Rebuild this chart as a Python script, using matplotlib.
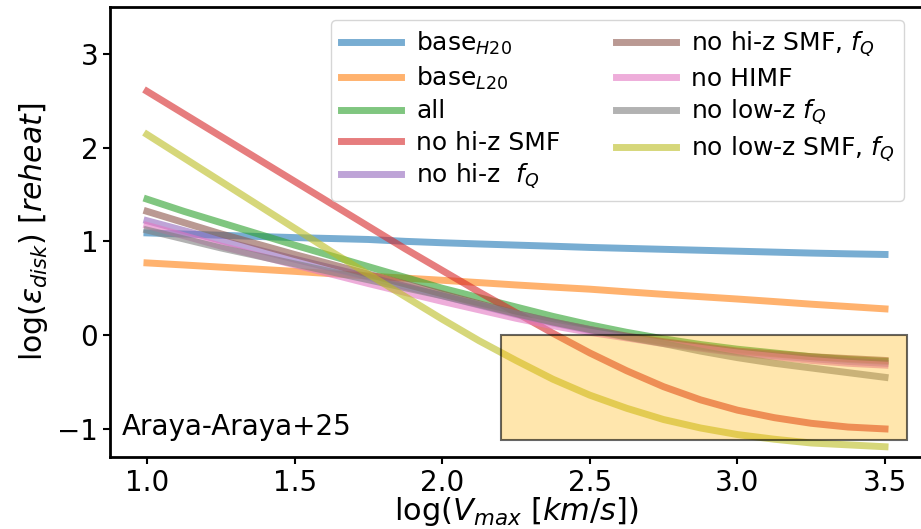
import matplotlib
matplotlib.use("Agg")
import matplotlib.pyplot as plt
from matplotlib.patches import Rectangle

# log(Vmax) sample points
log_vmax = [1.0, 1.125, 1.25, 1.375, 1.5, 1.625, 1.75, 1.875, 2.0, 2.125, 2.25,
            2.375, 2.5, 2.625, 2.75, 2.875, 3.0, 3.125, 3.25, 3.375, 3.5]

base_h20 = [1.09, 1.078, 1.065, 1.052, 1.04, 1.03, 1.02, 1.0, 0.985, 0.972, 0.96,
            0.948, 0.935, 0.925, 0.915, 0.905, 0.895, 0.885, 0.875, 0.867, 0.86]
base_l20 = [0.77, 0.748, 0.725, 0.703, 0.68, 0.655, 0.63, 0.608, 0.585, 0.56, 0.535,
            0.512, 0.49, 0.462, 0.435, 0.41, 0.385, 0.358, 0.33, 0.305, 0.28]
all_obs = [1.45, 1.32, 1.20, 1.08, 0.96, 0.845, 0.73, 0.615, 0.50, 0.40, 0.30,
           0.20, 0.11, 0.03, -0.04, -0.10, -0.15, -0.19, -0.23, -0.26, -0.28]
no_hiz_smf = [2.60, 2.36, 2.12, 1.88, 1.64, 1.40, 1.16, 0.92, 0.69, 0.46, 0.24,
              0.02, -0.19, -0.38, -0.55, -0.69, -0.80, -0.88, -0.94, -0.98, -1.00]
no_hiz_fq = [1.22, 1.115, 1.01, 0.91, 0.81, 0.715, 0.62, 0.52, 0.42, 0.32, 0.22,
             0.13, 0.05, -0.02, -0.08, -0.13, -0.18, -0.22, -0.25, -0.28, -0.30]
no_hiz_smf_fq = [1.32, 1.20, 1.08, 0.97, 0.86, 0.755, 0.65, 0.545, 0.44, 0.335, 0.23,
                 0.14, 0.06, -0.01, -0.07, -0.12, -0.17, -0.20, -0.23, -0.25, -0.27]
no_himf = [1.17, 1.06, 0.95, 0.85, 0.75, 0.65, 0.55, 0.455, 0.36, 0.27, 0.18,
           0.10, 0.03, -0.03, -0.09, -0.14, -0.19, -0.23, -0.27, -0.30, -0.32]
no_lowz_fq = [1.12, 1.025, 0.93, 0.845, 0.76, 0.675, 0.59, 0.505, 0.42, 0.325, 0.23,
              0.14, 0.06, -0.02, -0.09, -0.17, -0.24, -0.30, -0.35, -0.40, -0.45]
no_lowz_smf_fq = [2.14, 1.89, 1.64, 1.39, 1.14, 0.89, 0.65, 0.41, 0.17, -0.06, -0.27,
                  -0.47, -0.64, -0.78, -0.90, -0.99, -1.06, -1.11, -1.15, -1.17, -1.19]

series = [base_h20, base_l20, all_obs, no_hiz_smf, no_hiz_fq,
          no_hiz_smf_fq, no_himf, no_lowz_fq, no_lowz_smf_fq]
labels = [r'base$_{H20}$', r'base$_{L20}$', 'all', 'no hi-z SMF',
          r'no hi-z  $f_Q$', r'no hi-z SMF, $f_Q$', 'no HIMF',
          r'no low-z $f_Q$', r'no low-z SMF, $f_Q$']

# shaded region (x0, x1) and (y0, y1)
box_x = [2.2, 3.575]
box_y = [-1.12, 0.0]

fig = plt.figure(figsize=(9.21, 5.29), dpi=100)
ax = fig.add_axes([0.1195, 0.136, 0.8815, 0.851])

for i, (y, lab) in enumerate(zip(series, labels)):
    ax.plot(log_vmax, y, color=f'C{i}', lw=5, alpha=0.6, label=lab)

ax.add_patch(Rectangle((box_x[0], box_y[0]), box_x[1] - box_x[0], box_y[1] - box_y[0],
                       facecolor=(1.0, 0.7, 0.0, 0.32), edgecolor=(0, 0, 0, 0.6),
                       lw=1.5, zorder=5))

ax.set_xlim(0.875, 3.625)
ax.set_ylim(-1.3, 3.5)
ax.set_xticks([1.0, 1.5, 2.0, 2.5, 3.0, 3.5])
ax.set_yticks([-1, 0, 1, 2, 3])
ax.tick_params(labelsize=20, width=1.5, length=5)
for s in ax.spines.values():
    s.set_linewidth(2)

ax.set_xlabel(r'log($V_{max}$ $[km/s]$)', fontsize=22, labelpad=-1)
ax.set_ylabel(r'log($\epsilon_{disk}$) $[reheat]$', fontsize=21.5, labelpad=5)

ax.text(0.015, 0.035, 'Araya-Araya+25', transform=ax.transAxes,
        fontsize=20, ha='left', va='bottom')

ax.legend(ncol=2, fontsize=18, loc='upper right', bbox_to_anchor=(0.978, 0.971),
          borderaxespad=0, handlelength=2.4, handletextpad=0.6,
          labelspacing=0.3, columnspacing=2.2)

fig.savefig('out.png', dpi=100)
